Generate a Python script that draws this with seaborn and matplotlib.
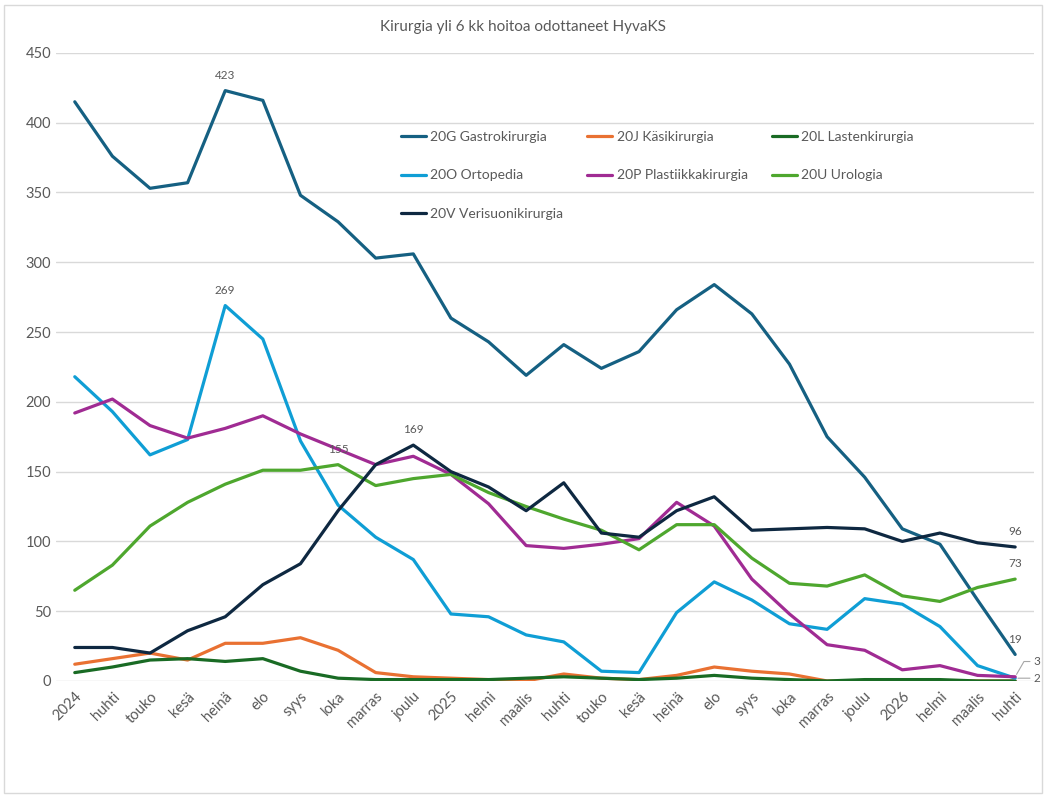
import matplotlib
matplotlib.use("Agg")
import matplotlib.pyplot as plt
import seaborn as sns
import pandas as pd

# kuukaudet
months = ["2024", "huhti", "touko", "kesä", "heinä", "elo", "syys", "loka", "marras", "joulu",
          "2025", "helmi", "maalis", "huhti", "touko", "kesä", "heinä", "elo", "syys", "loka",
          "marras", "joulu", "2026", "helmi", "maalis", "huhti"]

gastro = [415, 376, 353, 357, 423, 416, 348, 329, 303, 306, 260, 243, 219, 241, 224, 236,
          266, 284, 263, 227, 175, 146, 109, 98, 58, 19]
kasi = [12, 16, 20, 15, 27, 27, 31, 22, 6, 3, 2, 1, 0, 5, 2, 1, 4, 10, 7, 5, 0, 0, 0, 0, 0, 0]
lasten = [6, 10, 15, 16, 14, 16, 7, 2, 1, 1, 1, 1, 2, 3, 2, 1, 2, 4, 2, 1, 0, 1, 1, 1, 0, 0]
orto = [218, 193, 162, 173, 269, 245, 172, 126, 103, 87, 48, 46, 33, 28, 7, 6, 49, 71, 58, 41,
        37, 59, 55, 39, 11, 2]
plast = [192, 202, 183, 174, 181, 190, 177, 166, 155, 161, 148, 127, 97, 95, 98, 102, 128, 111,
         73, 48, 26, 22, 8, 11, 4, 3]
uro = [65, 83, 111, 128, 141, 151, 151, 155, 140, 145, 148, 135, 125, 116, 108, 94, 112, 112,
       88, 70, 68, 76, 61, 57, 67, 73]
veri = [24, 24, 20, 36, 46, 69, 84, 122, 155, 169, 150, 139, 122, 142, 106, 103, 122, 132, 108,
        109, 110, 109, 100, 106, 99, 96]

series = {
    "20G Gastrokirurgia": gastro,
    "20J Käsikirurgia": kasi,
    "20L Lastenkirurgia": lasten,
    "20O Ortopedia": orto,
    "20P Plastiikkakirurgia": plast,
    "20U Urologia": uro,
    "20V Verisuonikirurgia": veri,
}
colors = ["#156082", "#E97132", "#196B24", "#0F9ED5", "#A02B93", "#4EA72E", "#0E2841"]

rows = []
for name, vals in series.items():
    for i, v in enumerate(vals):
        rows.append({"x": i, "arvo": v, "yksikkö": name})
df = pd.DataFrame(rows)

sns.set_style("white")
plt.rcParams["font.family"] = ["Lato", "DejaVu Sans"]
grey = "#595959"

fig = plt.figure(figsize=(10.46, 7.96), dpi=100)
ax = fig.add_axes([0.0535, 0.1445, 0.935, 0.789])

sns.lineplot(data=df, x="x", y="arvo", hue="yksikkö", palette=colors, linewidth=2.3,
             sort=False, ax=ax, legend=True)

ax.set_xlim(-0.5, len(months) - 0.5)
ax.set_ylim(0, 450)
ax.set_yticks(range(0, 451, 50))
ax.yaxis.grid(True, color="#d9d9d9", linewidth=1)
ax.set_axisbelow(True)
for s in ax.spines.values():
    s.set_visible(False)
ax.set_xticks(range(len(months)))
ax.set_xticklabels(months, rotation=45, ha="right", rotation_mode="anchor")
ax.tick_params(axis="both", colors=grey, labelsize=10.5, length=0)
ax.tick_params(axis="x", pad=6)
ax.set_xlabel("")
ax.set_ylabel("")

# legenda riveittäin kuten Excelissä
handles, labels = ax.get_legend_handles_labels()
order = [0, 3, 6, 1, 4, 2, 5]
leg = ax.legend([handles[i] for i in order], [labels[i] for i in order],
                loc="upper left", bbox_to_anchor=(0.34, 0.896), ncol=3, frameon=False,
                fontsize=10, handlelength=1.8, handletextpad=0.3, columnspacing=1.75,
                labelspacing=1.92, labelcolor=grey)
for h in leg.get_lines():
    h.set_linewidth(2.3)

fig.suptitle("Kirurgia yli 6 kk hoitoa odottaneet HyvaKS", y=0.975, fontsize=11, color=grey)

# datatarrat
lab = dict(fontsize=8.5, color=grey, ha="center", va="bottom")
ax.annotate(str(gastro[4]), (4, gastro[4]), xytext=(0, 7), textcoords="offset points", **lab)
ax.annotate(str(orto[4]), (4, orto[4]), xytext=(0, 7), textcoords="offset points", **lab)
ax.annotate(str(uro[7]), (7, uro[7]), xytext=(0, 7), textcoords="offset points", **lab)
ax.annotate(str(veri[9]), (9, veri[9]), xytext=(0, 7), textcoords="offset points", **lab)
last = len(months) - 1
ax.annotate(str(veri[last]), (last, veri[last]), xytext=(0, 7), textcoords="offset points", **lab)
ax.annotate(str(uro[last]), (last, uro[last]), xytext=(0, 7), textcoords="offset points", **lab)
ax.annotate(str(gastro[last]), (last, gastro[last]), xytext=(0, 7), textcoords="offset points", **lab)
ax.annotate(str(plast[last]), (last, plast[last]), xytext=(13, 11), textcoords="offset points",
            fontsize=8.5, color=grey, ha="left", va="center",
            arrowprops=dict(arrowstyle="-", color="#a6a6a6", lw=0.8, shrinkA=0, shrinkB=2,
                            connectionstyle="angle,angleA=0,angleB=60,rad=0"))
ax.annotate(str(orto[last]), (last, orto[last]), xytext=(13, 0), textcoords="offset points",
            fontsize=8.5, color=grey, ha="left", va="center",
            arrowprops=dict(arrowstyle="-", color="#a6a6a6", lw=0.8, shrinkA=0, shrinkB=2))

fig.patches.append(plt.Rectangle((0.004, 0.004), 0.992, 0.99, transform=fig.transFigure,
                                 fill=False, edgecolor="#d9d9d9", linewidth=1))

fig.savefig("out.png", dpi=100)
